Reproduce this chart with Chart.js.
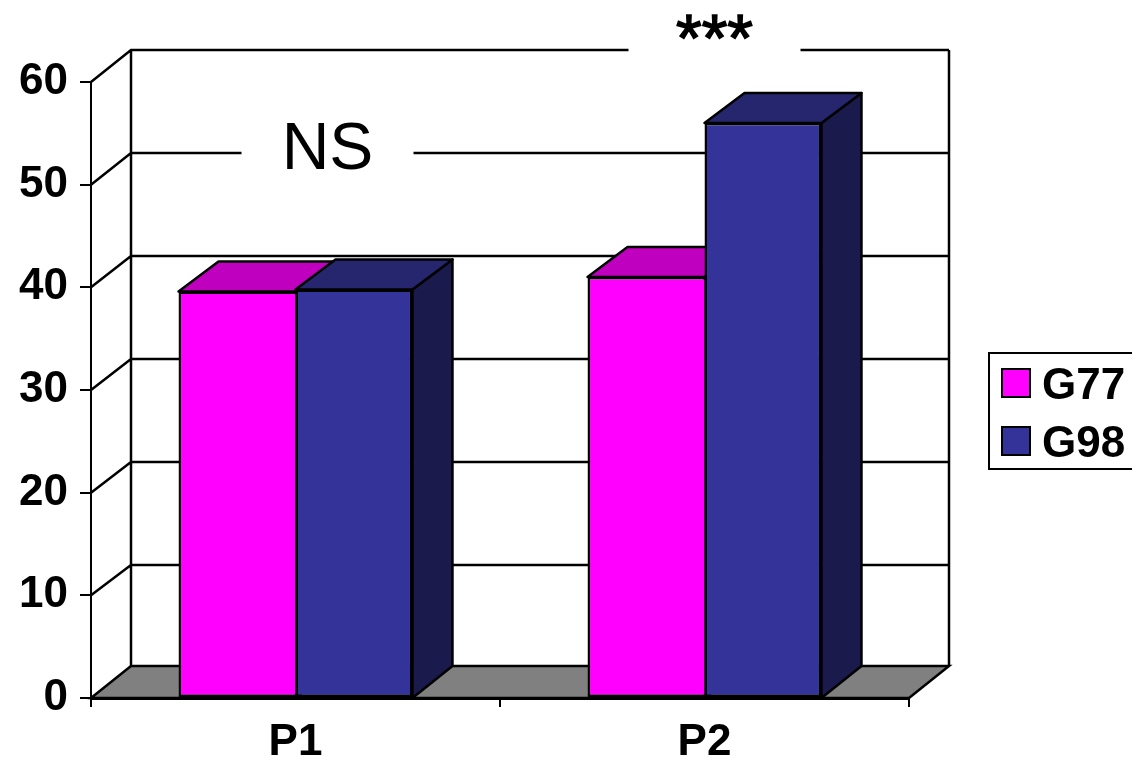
<!DOCTYPE html>
<html>
<head>
<meta charset="utf-8">
<title>G77 vs G98</title>
<script src="https://cdn.jsdelivr.net/npm/chart.js@4"></script>
<style>
    body { margin: 0; background: #fff; }
    canvas { display: block; }
</style>
</head>
<body>
<canvas id="chart" width="1132" height="758"></canvas>
<script>
const categories = ["P1", "P2"];
const g77Values = [39.6, 41];
const g98Values = [39.8, 56];
const seriesNames = ["G77", "G98"];
const frontColors = ["#ff00ff", "#333399"];
const topColors = ["#bf00bf", "#26266f"];
const sideColors = ["#990099", "#1a1a4d"];
const noteLabels = ["NS", "***"];
const noteCategory = [0, 1];
const noteGridValue = [50, 60];

const DX = 40, DY = -32, BAR_DY = -30;
const FONT = '"Liberation Sans", Arial, sans-serif';

function poly(ctx, pts, fill) {
    ctx.beginPath();
    pts.forEach((p, i) => i ? ctx.lineTo(p[0], p[1]) : ctx.moveTo(p[0], p[1]));
    ctx.closePath();
    if (fill) {
        ctx.fillStyle = fill;
        ctx.fill();
    }
    ctx.stroke();
}

const box3d = {
    id: "box3d",
    // back wall, floor, grid lines and the notes
    beforeDraw(chart) {
        const { ctx, chartArea: a, scales: { x, y } } = chart;
        // back wall grid runs a touch wider than the front axis
        const backY = (py) => Math.round(py + DY + 2 * (py - a.top) / (a.bottom - a.top));
        ctx.save();
        ctx.strokeStyle = "#000";
        ctx.lineWidth = 2.5;
        ctx.lineJoin = "miter";
        poly(ctx, [[a.left, a.bottom], [a.left + DX, a.bottom + DY], [a.right + DX, a.bottom + DY], [a.right, a.bottom]], "#808080");
        ctx.beginPath();
        ctx.moveTo(a.left + DX, a.bottom + DY);
        ctx.lineTo(a.left + DX, a.top + DY);
        ctx.moveTo(a.right + DX, a.bottom + DY);
        ctx.lineTo(a.right + DX, a.top + DY);
        y.ticks.forEach((t) => {
            if (t.value === 0) return;
            const py = y.getPixelForValue(t.value);
            ctx.moveTo(a.left, py);
            ctx.lineTo(a.left + DX, backY(py));
            ctx.lineTo(a.right + DX, backY(py));
        });
        ctx.stroke();

        // notes sit on a white patch that cuts the grid line
        noteLabels.forEach((label, i) => {
            const big = label === "NS";
            const cx = x.getPixelForValue(noteCategory[i]) + (big ? 32 : 10);
            const py = backY(y.getPixelForValue(noteGridValue[i]));
            ctx.fillStyle = "#fff";
            ctx.fillRect(cx - 86, py - 4, 172, 8);
            ctx.fillStyle = "#000";
            ctx.textAlign = "center";
            ctx.textBaseline = "alphabetic";
            ctx.font = "66px " + FONT;
            ctx.fillText(label, cx, big ? py + 16 : py + 11);
            if (!big) {
                // stars are heavier than the regular face
                ctx.lineWidth = 1.5;
                ctx.strokeText(label, cx, py + 11);
            }
        });
        ctx.restore();
    },
    // top and side of each bar
    beforeDatasetsDraw(chart) {
        const { ctx, scales: { y } } = chart;
        const base = y.getPixelForValue(0);
        ctx.save();
        ctx.strokeStyle = "#000";
        ctx.lineWidth = 2.5;
        ctx.lineJoin = "round";
        categories.forEach((c, i) => {
            chart.data.datasets.forEach((ds, d) => {
                const bar = chart.getDatasetMeta(d).data[i];
                const l = bar.x - bar.width / 2, r = bar.x + bar.width / 2, t = bar.y;
                poly(ctx, [[r, t], [r + DX, t + BAR_DY], [r + DX, base + DY], [r, base]], sideColors[d]);
                poly(ctx, [[l, t], [l + DX, t + BAR_DY], [r + DX, t + BAR_DY], [r, t]], topColors[d]);
            });
        });
        ctx.restore();
    },
    // legend box
    afterDraw(chart) {
        const { ctx } = chart;
        ctx.save();
        ctx.strokeStyle = "#000";
        ctx.lineWidth = 2;
        ctx.strokeRect(989, 353, 160, 116);
        chart.data.datasets.forEach((ds, d) => {
            const top = 369 + d * 58;
            ctx.fillStyle = ds.backgroundColor;
            ctx.fillRect(1002, top, 28, 28);
            ctx.strokeRect(1002, top, 28, 28);
            ctx.fillStyle = "#000";
            ctx.font = "bold 44px " + FONT;
            ctx.textAlign = "left";
            ctx.textBaseline = "alphabetic";
            ctx.fillText(ds.label, 1042, top + 30);
        });
        ctx.restore();
    }
};

new Chart(document.getElementById("chart"), {
    type: "bar",
    data: {
        labels: categories,
        datasets: [
            { label: seriesNames[0], data: g77Values, backgroundColor: frontColors[0], borderColor: "#000", borderWidth: 2.5, borderSkipped: "right" },
            { label: seriesNames[1], data: g98Values, backgroundColor: frontColors[1], borderColor: "#000", borderWidth: 2.5, borderSkipped: false }
        ]
    },
    plugins: [box3d],
    options: {
        responsive: false,
        animation: false,
        categoryPercentage: 0.572,
        barPercentage: 1,
        layout: { padding: { top: 82, right: 223, left: 0, bottom: 0 } },
        plugins: {
            legend: { display: false },
            tooltip: { enabled: false }
        },
        scales: {
            x: {
                afterFit(scale) { scale.height = 60; },
                grid: { drawOnChartArea: false, tickLength: 9, color: "#000", lineWidth: 2 },
                border: { color: "#000", width: 3 },
                ticks: { color: "#000", padding: 9, font: { family: FONT, size: 44, weight: "bold" }, maxRotation: 0 }
            },
            y: {
                min: 0,
                max: 60,
                afterFit(scale) { scale.width = 91; },
                grid: { drawOnChartArea: false, tickLength: 11, color: "#000", lineWidth: 2 },
                border: { color: "#000", width: 2 },
                ticks: { stepSize: 10, color: "#000", padding: 12, font: { family: FONT, size: 44, weight: "bold" } }
            }
        }
    }
});
</script>
</body>
</html>
